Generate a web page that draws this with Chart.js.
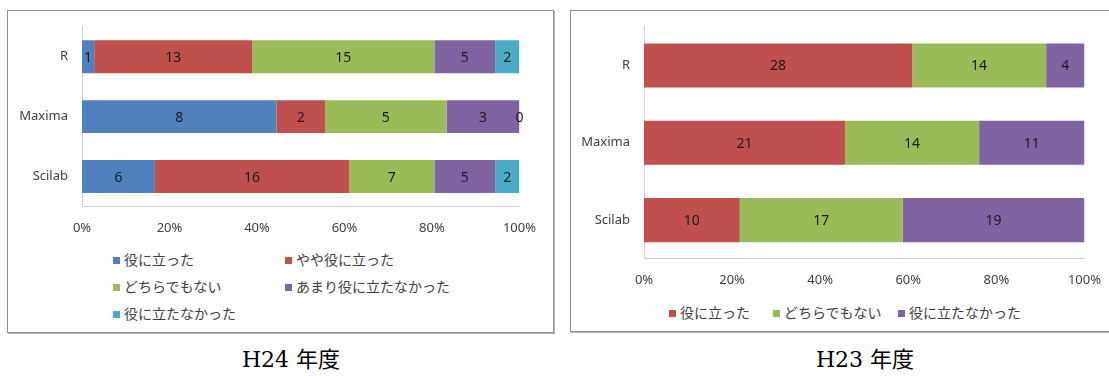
<!DOCTYPE html>
<html>
<head>
<meta charset="utf-8">
<script src="https://cdn.jsdelivr.net/npm/chart.js@4.4.1/dist/chart.umd.min.js"></script>
<style>
    body { margin: 0; background: #fff; width: 1109px; height: 376px; overflow: hidden; position: relative; }
    .box { position: absolute; border: 1px solid #8f8f8f; box-shadow: 1px 1px 0 #b5b5b5; background: #fff; }
    canvas { position: absolute; }
    .leg { position: absolute; font-family: "Noto Sans CJK JP", sans-serif; font-size: 14px; color: #404040; white-space: nowrap; line-height: 16px; }
    .leg span { display: inline-block; width: 7px; height: 7px; margin-right: 4px; vertical-align: 1px; }
    .caption { position: absolute; font-family: "DejaVu Serif", "Noto Sans CJK JP", serif; font-size: 22px; line-height: 26px; color: #000; top: 347px; width: 300px; text-align: center; }
</style>
</head>
<body>
<div class="box" style="left:7px; top:10px; width:545px; height:321px;"></div>
<div class="box" style="left:570px; top:10px; width:600px; height:320px;"></div>

<!-- canvases start a bit above the boxes: the y labels padding pushes the plot area down -->
<canvas id="chartH24" width="540" height="237" style="left:10px; top:5px;"></canvas>
<canvas id="chartH23" width="543" height="287" style="left:572px; top:5px;"></canvas>

<div id="legendH24"></div>
<div id="legendH23"></div>

<div class="caption" style="left:141px;">H24 年度</div>
<div class="caption" style="left:715px;">H23 年度</div>

<script>
// categories (software)
var categories = ['R', 'Maxima', 'Scilab'];

// H24 answers (counts)
var h24Useful = [1, 8, 6];
var h24SomewhatUseful = [13, 2, 16];
var h24Neutral = [15, 5, 7];
var h24NotVery = [5, 3, 5];
var h24NotUseful = [2, 0, 2];

// H23 answers (counts)
var h23Useful = [28, 21, 10];
var h23Neutral = [14, 14, 17];
var h23NotUseful = [4, 11, 19];

// x axis ticks (percent)
var percentTicks = [0, 20, 40, 60, 80, 100];

var labelsH24 = ['役に立った', 'やや役に立った', 'どちらでもない', 'あまり役に立たなかった', '役に立たなかった'];
var labelsH23 = ['役に立った', 'どちらでもない', '役に立たなかった'];

var blue = '#4f81bd', red = '#c0504d', green = '#9bbb59', purple = '#8064a2', cyan = '#4bacc6';

// turn counts into 100% stacked shares
function toPercent(seriesList) {
    var totals = categories.map(function (c, i) {
        var t = 0;
        seriesList.forEach(function (s) { t += s[i]; });
        return t;
    });
    return seriesList.map(function (s) {
        return s.map(function (v, i) { return v / totals[i] * 100; });
    });
}

// writes the raw count in the middle of each segment
var countLabels = {
    id: 'countLabels',
    afterDatasetsDraw: function (chart) {
        var ctx = chart.ctx;
        ctx.save();
        ctx.font = '14px "Noto Sans", sans-serif';
        ctx.fillStyle = '#1a1a1a';
        ctx.textAlign = 'center';
        ctx.textBaseline = 'middle';
        chart.data.datasets.forEach(function (ds, di) {
            chart.getDatasetMeta(di).data.forEach(function (bar, i) {
                var p = bar.getCenterPoint();
                ctx.fillText(String(ds.counts[i]), p.x, p.y + 1);
            });
        });
        ctx.restore();
    }
};

function buildChart(id, series, names, colors, yWidth, xHeight, barPct) {
    var shares = toPercent(series);
    var datasets = series.map(function (s, k) {
        return {
            label: names[k],
            data: shares[k],
            counts: s,
            backgroundColor: colors[k],
            borderWidth: 0,
            categoryPercentage: 1,
            barPercentage: barPct
        };
    });
    var ctx = document.getElementById(id).getContext('2d');
    return new Chart(ctx, {
        type: 'bar',
        data: { labels: categories, datasets: datasets },
        options: {
            indexAxis: 'y',
            responsive: false,
            animation: false,
            layout: { padding: 0 },
            plugins: { legend: { display: false }, tooltip: { enabled: false } },
            scales: {
                x: {
                    stacked: true,
                    min: 0,
                    max: 100,
                    afterFit: function (s) { s.height = xHeight; },
                    afterBuildTicks: function (s) {
                        s.ticks = percentTicks.map(function (v) { return { value: v }; });
                    },
                    grid: { display: false, drawTicks: false },
                    border: { display: true, color: '#d0d0d0', width: 1 },
                    ticks: {
                        padding: 14,
                        color: '#404040',
                        font: { family: '"Noto Sans", sans-serif', size: 13 },
                        callback: function (v) { return v + '%'; }
                    }
                },
                y: {
                    stacked: true,
                    afterFit: function (s) { s.width = yWidth; },
                    grid: { display: false, drawTicks: false },
                    border: { display: true, color: '#d0d0d0', width: 1 },
                    ticks: {
                        padding: 14,
                        color: '#404040',
                        font: { family: '"Noto Sans", sans-serif', size: 13 }
                    }
                }
            }
        },
        plugins: [countLabels]
    });
}

//- H24 CHART -
buildChart('chartH24',
    [h24Useful, h24SomewhatUseful, h24Neutral, h24NotVery, h24NotUseful],
    labelsH24, [blue, red, green, purple, cyan], 72, 35.5, 0.55);

//- H23 CHART -
buildChart('chartH23',
    [h23Useful, h23Neutral, h23NotUseful],
    labelsH23, [red, green, purple], 72, 33.25, 0.57);

// html legends
function legendItem(text, color, x, y) {
    var d = document.createElement('div');
    d.className = 'leg';
    d.style.left = x + 'px';
    d.style.top = y + 'px';
    d.innerHTML = '<span style="background:' + color + '"></span>' + text;
    return d;
}
var l24 = document.getElementById('legendH24');
l24.appendChild(legendItem(labelsH24[0], blue, 113, 251));
l24.appendChild(legendItem(labelsH24[1], red, 285, 251));
l24.appendChild(legendItem(labelsH24[2], green, 113, 278));
l24.appendChild(legendItem(labelsH24[3], purple, 285, 278));
l24.appendChild(legendItem(labelsH24[4], cyan, 113, 305));

var l23 = document.getElementById('legendH23');
l23.appendChild(legendItem(labelsH23[0], red, 669, 304));
l23.appendChild(legendItem(labelsH23[1], green, 773, 304));
l23.appendChild(legendItem(labelsH23[2], purple, 898, 304));
</script>
</body>
</html>
